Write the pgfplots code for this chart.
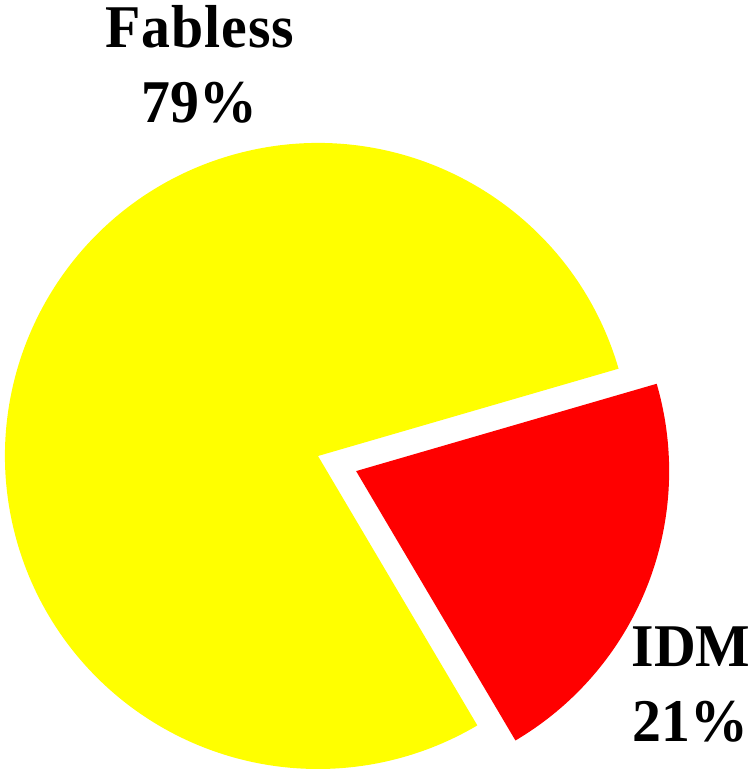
\documentclass[border=0pt]{standalone}
\usepackage{pgfplots}
\usepackage{pgfplotstable}
\usepackage{fontspec}
\setmainfont{Liberation Serif}
\pgfplotsset{compat=1.18}
\definecolor{pieyellow}{RGB}{255,255,0}
\definecolor{piered}{RGB}{255,0,0}
\pgfplotstableread{
label value
Fabless 79
IDM 21
}\piedata
\pgfplotstablegetelem{0}{value}\of\piedata \let\vA\pgfplotsretval
\pgfplotstablegetelem{1}{value}\of\piedata \let\vB\pgfplotsretval
\pgfmathsetmacro{\startA}{16.2}
\pgfmathsetmacro{\endA}{\startA+3.6*\vA}
\pgfmathsetmacro{\endB}{\endA+3.6*\vB}
\pgfmathsetmacro{\midB}{(\endA+\endB)/2}
\pgfmathsetmacro{\cx}{318}
\pgfmathsetmacro{\cy}{315}
\pgfmathsetmacro{\rr}{313}
\pgfmathsetmacro{\ex}{\cx+41*cos(\midB)}
\pgfmathsetmacro{\ey}{\cy+41*sin(\midB)}
\begin{document}
\begin{tikzpicture}
\begin{axis}[
  width=754bp, height=771bp, scale only axis,
  xmin=0, xmax=754, ymin=0, ymax=771,
  hide axis, clip=false,
]
\fill[pieyellow] (axis cs:\cx,\cy) -- ++(\startA:\rr bp) arc[start angle=\startA, end angle=\endA, radius=\rr bp] -- cycle;
\fill[piered] (axis cs:\ex,\ey) -- ++(\endA:\rr bp) arc[start angle=\endA, end angle=\endB, radius=\rr bp] -- cycle;
\tikzset{lbl/.style={anchor=base, inner sep=0pt, font=\fontsize{58}{70}\selectfont\bfseries}}
\node[lbl] at (axis cs:200,723) {\scalebox{1.0}[1.05]{F\kern1pt a\kern1pt b\kern1pt l\kern1pt e\kern1pt s\kern1pt s}};
\node[lbl] at (axis cs:199,648) {\scalebox{1.0}[1.05]{\vA\%}};
\node[lbl] at (axis cs:691,104) {\scalebox{1.0}[1.05]{IDM}};
\node[lbl] at (axis cs:690,29) {\scalebox{1.0}[1.05]{\vB\%}};
\end{axis}
\pgfresetboundingbox
\path[use as bounding box] (current axis.south west) rectangle (current axis.north east);
\end{tikzpicture}
\end{document}
